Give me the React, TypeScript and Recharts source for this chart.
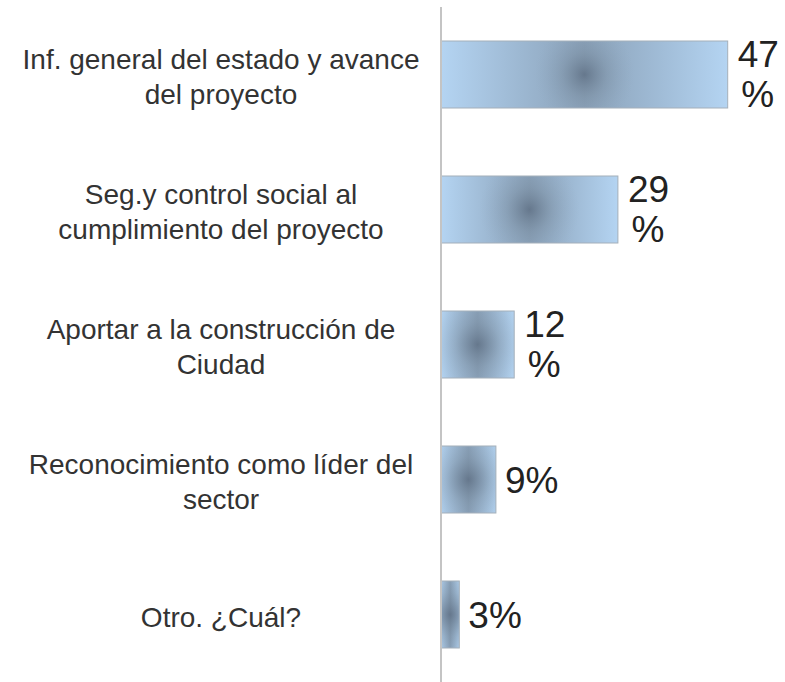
import { BarChart, Bar, XAxis, YAxis, LabelList } from 'recharts';

const categories = [
  'Inf. general del estado y avance\ndel proyecto',
  'Seg.y control social al\ncumplimiento del proyecto',
  'Aportar a la construcción de\nCiudad',
  'Reconocimiento como líder del\nsector',
  'Otro. ¿Cuál?'
];
const percents = [47, 29, 12, 9, 3];

const data = categories.map((name, i) => ({ name, value: percents[i] }));

const FONT = '"Liberation Sans", Arial, sans-serif';

function CategoryTick({ y, payload }: any) {
  const lines = String(payload.value).split('\n');
  const lineHeight = 35;
  const first = y + 12 - ((lines.length - 1) * lineHeight) / 2;
  return (
    <text x={221} y={first} textAnchor="middle" fontSize={28} fill="#333" fontFamily={FONT}>
      {lines.map((l, i) => (
        <tspan key={i} x={221} y={first + i * lineHeight}>
          {l}
        </tspan>
      ))}
    </text>
  );
}

// bar body: horizontal light-dark-light fade with a darker round spot in the middle
function GradientBar({ x, y, width, height, index }: any) {
  if (!width) return null;
  const id = `spot${index}`;
  return (
    <g>
      <defs>
        <radialGradient
          id={id}
          gradientUnits="userSpaceOnUse"
          cx={x + width / 2}
          cy={y + height / 2}
          r={height * 0.75}
        >
          <stop offset="0" stopColor="#56667a" stopOpacity={0.7} />
          <stop offset="0.45" stopColor="#6f8193" stopOpacity={0.3} />
          <stop offset="1" stopColor="#8aa1b8" stopOpacity={0} />
        </radialGradient>
      </defs>
      <rect x={x} y={y} width={width} height={height} fill="url(#barLinear)" />
      <rect x={x} y={y} width={width} height={height} fill={`url(#${id})`} stroke="#a4afba" strokeWidth={1} />
    </g>
  );
}

function ValueLabel({ x, y, width, height, value }: any) {
  const end = x + width;
  const cy = y + height / 2;
  if (value >= 10) {
    return (
      <text fontSize={37} fill="#222" fontFamily={FONT}>
        <tspan x={end + 10} y={cy - 8}>{value}</tspan>
        <tspan x={end + 30} y={cy + 32} textAnchor="middle">%</tspan>
      </text>
    );
  }
  return (
    <text x={end + 9} y={cy + 13} fontSize={37} fill="#222" fontFamily={FONT}>
      {value}%
    </text>
  );
}

export default function App() {
  return (
    <div style={{ position: 'absolute', left: 0, top: 0, background: '#fff' }}>
      <BarChart
        width={785}
        height={682}
        data={data}
        layout="vertical"
        margin={{ top: 7, right: 39, bottom: 0, left: 0 }}
      >
        <defs>
          <linearGradient id="barLinear" x1="0" y1="0" x2="1" y2="0">
            <stop offset="0" stopColor="#b4d4f2" />
            <stop offset="0.5" stopColor="#8aa1b8" />
            <stop offset="1" stopColor="#b4d4f2" />
          </linearGradient>
        </defs>
        <XAxis type="number" domain={[0, 50]} hide />
        <YAxis
          type="category"
          dataKey="name"
          width={441}
          axisLine={{ stroke: '#c4c4c4', strokeWidth: 2 }}
          tickLine={false}
          tick={<CategoryTick />}
          interval={0}
        />
        <Bar
          dataKey="value"
          barSize={67}
          shape={<GradientBar />}
          isAnimationActive={false}
        >
          <LabelList dataKey="value" content={<ValueLabel />} />
        </Bar>
      </BarChart>
    </div>
  );
}
